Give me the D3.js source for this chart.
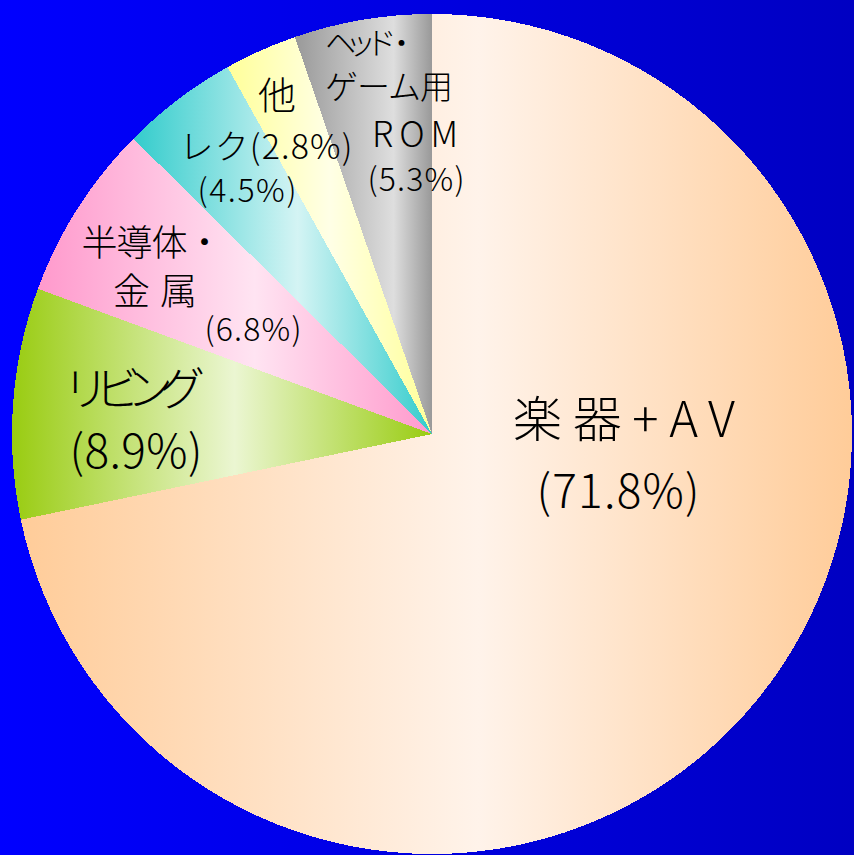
<!DOCTYPE html>
<html lang="ja">
	<head>
		<meta charset="utf-8">
		<title>D3: 売上構成比</title>
		<script type="text/javascript" src="https://d3js.org/d3.v7.min.js"></script>
		<style type="text/css">
			body { margin: 0; }
			text { font-family: "Noto Sans CJK JP", sans-serif; font-weight: 300; fill: #000; }
		</style>
	</head>
	<body>
		<script type="text/javascript">

			//Width and height
			var w = 854;
			var h = 855;

			//Data
			var categories = ["楽器+AV", "リビング", "半導体・金属", "レク", "他", "ヘッド・ゲーム用ROM"];
			var shares = [71.8, 8.9, 6.8, 4.5, 2.8, 5.3];
			var edgeColors = ["#ffcc99", "#99cc11", "#ff99cc", "#33cccc", "#ffff99", "#999999"];
			var lightColors = ["#fff3ea", "#ebf6d2", "#ffe4f2", "#d4f4f4", "#ffffe6", "#dedede"];
			var lightStops = [0.55, 0.53, 0.55, 0.55, 0.5, 0.72];

			//Label lines per slice: [text, cx, cy, font size, width]
			var labelLines = [
				[["楽器+AV", 624, 415, 49, 222], ["(71.8%)", 618, 488, 46, 163]],
				[["リビング", 134, 385, 46, 142], ["(8.9%)", 136, 448, 46, 133]],
				[["半導体・", 152, 240, 36, 141], ["金属", 155, 289, 37, 84], ["(6.8%)", 253, 327, 32, 97]],
				[["レク(2.8%)", 266, 144, 34, 173], ["(4.5%)", 247, 188, 32, 99]],
				[["他", 277, 92, 38, 40]],
				[["ヘッド・", 371, 40, 31, 92], ["ゲーム用", 389, 85, 33, 128], ["ROM", 415, 131, 35, 86], ["(5.3%)", 416, 177, 32, 97]]
			];

			//Pie geometry
			var cx = 432, cy = 434, r = 420;

			//Create SVG element
			var svg = d3.select("body")
			.append("svg")
			.attr("width", w)
			.attr("height", h);

			var defs = svg.append("defs");

			//Background gradient
			var bg = defs.append("linearGradient")
			.attr("id", "bg")
			.attr("x1", 0).attr("x2", 1).attr("y1", 0).attr("y2", 0);
			bg.append("stop").attr("offset", 0).attr("stop-color", "#0000ff");
			bg.append("stop").attr("offset", 1).attr("stop-color", "#0000c2");

			svg.append("rect")
			.attr("width", w)
			.attr("height", h)
			.attr("fill", "url(#bg)");

			//Slice gradients
			categories.forEach(function(c, i) {
				var g = defs.append("linearGradient")
				.attr("id", "g" + i)
				.attr("x1", 0).attr("x2", 1).attr("y1", 0).attr("y2", 0);
				g.append("stop").attr("offset", 0).attr("stop-color", edgeColors[i]);
				g.append("stop").attr("offset", lightStops[i]).attr("stop-color", lightColors[i]);
				g.append("stop").attr("offset", 1).attr("stop-color", edgeColors[i]);
			});

			//Pie layout, clockwise from 12 o'clock
			var pie = d3.pie()
			.sort(null)
			.value(function(d) { return d; });

			var arc = d3.arc()
			.innerRadius(0)
			.outerRadius(r);

			var g = svg.append("g")
			.attr("transform", "translate(" + cx + "," + cy + ")");

			g.selectAll("path")
			   .data(pie(shares))
			   .enter()
			   .append("path")
			   .attr("d", arc)
			   .attr("fill", function(d, i) { return "url(#g" + i + ")"; })
			   .attr("shape-rendering", "crispEdges");

			//Labels
			labelLines.forEach(function(lines) {
				lines.forEach(function(l) {
					svg.append("text")
					.attr("x", l[1])
					.attr("y", l[2])
					.attr("text-anchor", "middle")
					.attr("dominant-baseline", "central")
					.attr("font-size", l[3])
					.attr("textLength", l[4])
					.attr("lengthAdjust", "spacing")
					.text(l[0]);
				});
			});

		</script>
	</body>
</html>
